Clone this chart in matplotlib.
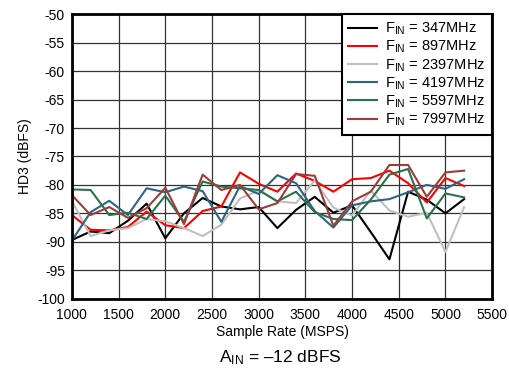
import numpy as np
import matplotlib
matplotlib.use("Agg")
import matplotlib.pyplot as plt

plt.rcParams['font.family'] = ['Liberation Sans', 'DejaVu Sans']
plt.rcParams['mathtext.fontset'] = 'custom'
plt.rcParams['mathtext.rm'] = 'Liberation Sans'
plt.rcParams['mathtext.it'] = 'Liberation Sans:italic'
plt.rcParams['axes.unicode_minus'] = False

sample_rate = [1000, 1200, 1400, 1600, 1800, 2000, 2200, 2400, 2600, 2800, 3000,
               3200, 3400, 3600, 3800, 4000, 4200, 4400, 4600, 4800, 5000, 5200]

hd3_347 = [-89.7, -88.2, -88.5, -86.3, -83.3, -89.4, -85.0, -82.3, -83.8, -84.3, -83.9,
           -87.6, -84.4, -82.1, -84.9, -83.6, -88.3, -93.1, -81.2, -82.6, -85.0, -82.5]
hd3_897 = [-85.3, -87.9, -88.0, -87.4, -84.7, -87.1, -87.6, -84.6, -83.8, -77.8, -79.8,
           -81.2, -78.0, -79.3, -81.2, -79.0, -78.8, -77.5, -79.7, -83.1, -78.8, -80.2]
hd3_2397 = [-82.8, -89.0, -88.0, -87.6, -86.0, -86.4, -87.6, -89.0, -87.0, -82.4, -81.0,
            -82.9, -83.2, -79.2, -84.0, -85.4, -81.0, -84.5, -85.6, -84.9, -91.8, -83.9]
hd3_4197 = [-89.8, -84.8, -82.8, -85.3, -80.6, -81.3, -80.3, -81.1, -86.5, -80.2, -81.6,
            -78.3, -79.7, -84.6, -87.5, -83.6, -82.9, -82.5, -81.3, -80.0, -80.7, -79.0]
hd3_5597 = [-80.8, -80.9, -85.3, -84.9, -86.0, -81.9, -86.5, -79.4, -80.3, -80.6, -80.9,
            -82.9, -81.2, -84.8, -86.0, -86.2, -82.6, -78.2, -77.2, -85.9, -81.5, -82.2]
hd3_7997 = [-81.8, -85.3, -83.9, -85.8, -84.1, -80.5, -86.9, -78.2, -80.9, -80.0, -84.3,
            -83.2, -78.1, -78.4, -87.2, -82.9, -81.2, -76.5, -76.5, -82.1, -77.8, -77.5]

series = [hd3_347, hd3_897, hd3_2397, hd3_4197, hd3_5597, hd3_7997]
labels = [r'F$_{\mathrm{IN}}$ = 347MHz', r'F$_{\mathrm{IN}}$ = 897MHz',
          r'F$_{\mathrm{IN}}$ = 2397MHz', r'F$_{\mathrm{IN}}$ = 4197MHz',
          r'F$_{\mathrm{IN}}$ = 5597MHz', r'F$_{\mathrm{IN}}$ = 7997MHz']
colors = ['#000000', '#ff0000', '#c0c0c0', '#2e6585', '#2b7149', '#9c3c3c']

fig = plt.figure(figsize=(5.1, 3.77), dpi=100)
ax = fig.add_axes([0.141, 0.208, 0.824, 0.754])

for y, lab, c in zip(series, labels, colors):
    ax.plot(sample_rate, y, color=c, linewidth=1.5, label=lab)

ax.set_xlim(1000, 5500)
ax.set_ylim(-100, -50)
ax.set_xticks(np.arange(1000, 5501, 500))
ax.set_yticks(np.arange(-100, -49, 5))
ax.grid(True, color='#333333', linewidth=0.9)
ax.set_axisbelow(True)
for s in ax.spines.values():
    s.set_linewidth(2)
ax.tick_params(length=0, labelsize=10)
ax.tick_params(axis='x', pad=7)
ax.tick_params(axis='y', pad=5)

ax.set_xlabel("Sample Rate (MSPS)", fontsize=10, labelpad=2)
ax.set_ylabel("HD3 (dBFS)", fontsize=10, labelpad=4)

leg = ax.legend(loc='upper right', fontsize=10.5, handlelength=2.0, labelspacing=0.12,
                borderpad=0.45, handletextpad=0.55, borderaxespad=0.0, fancybox=False)
leg.get_frame().set_edgecolor('black')
leg.get_frame().set_linewidth(1.5)
leg.get_frame().set_alpha(1)

fig.text(0.55, 0.052, r'A$_{\mathrm{IN}}$ = –12 dBFS', ha='center', va='center', fontsize=12.5)

fig.savefig("out.png", dpi=100)
